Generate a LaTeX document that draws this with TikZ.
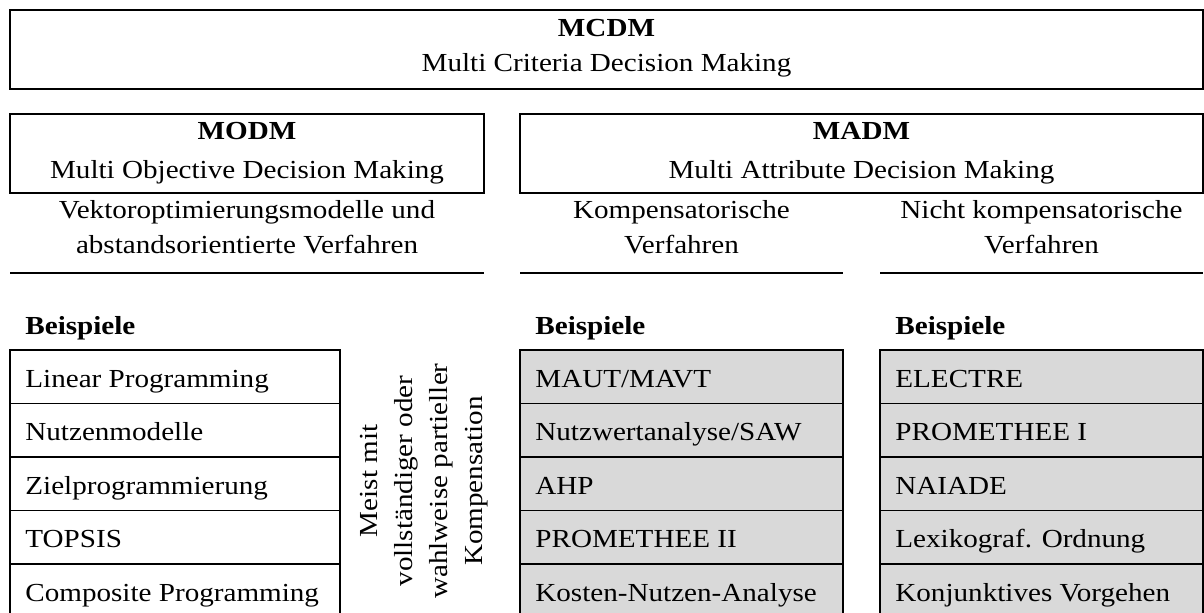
\documentclass[tikz,border=0pt]{standalone}
\usepackage{fontspec}
\setmainfont{Liberation Serif}[FakeStretch=1.12]
\definecolor{boxgrey}{HTML}{D9D9D9}
\begin{document}
\begin{tikzpicture}[x=0.5pt,y=-0.5pt,
  frame/.style={draw=black,line width=0.8pt},
  rule/.style={draw=black,line width=0.8pt},
  txt/.style={inner sep=0pt,anchor=base,font=\fontsize{13}{15}\selectfont},
  btxt/.style={txt,font=\fontsize{13}{15}\selectfont\bfseries},
  ltxt/.style={txt,anchor=base west},
  vtxt/.style={txt,rotate=90}]
\path[use as bounding box,clip] (0,0) rectangle (1204,612);

% top level: MCDM
\draw[frame] (10,10) rectangle (1203,89);
\node[btxt] (mcdm) at (606.5,36) {MCDM};
\node[txt] (mcdmsub) at (606.5,71) {Multi Criteria Decision Making};

% second level: MODM and MADM
\draw[frame] (10,114) rectangle (484,193);
\node[btxt] (modm) at (247,139) {MODM};
\node[txt] (modmsub) at (247,178) {Multi Objective Decision Making};
\draw[frame] (520,114) rectangle (1203,193);
\node[btxt] (madm) at (861.5,139) {MADM};
\node[txt] (madmsub) at (861.5,178) {Multi Attribute Decision Making};

% method families
\node[txt] (vek1) at (247,218) {Vektoroptimierungsmodelle und};
\node[txt] (vek2) at (247,253) {abstandsorientierte Verfahren};
\node[txt] (komp1) at (681.5,218) {Kompensatorische};
\node[txt] (komp2) at (681.5,253) {Verfahren};
\node[txt] (nkomp1) at (1041.5,218) {Nicht kompensatorische};
\node[txt] (nkomp2) at (1041.5,253) {Verfahren};
\draw[rule] (10,273) -- (484,273);
\draw[rule] (520,273) -- (843,273);
\draw[rule] (880,273) -- (1203,273);

% examples
\node[btxt,anchor=base west] (bspa) at (25,334) {Beispiele};
\node[btxt,anchor=base west] (bspb) at (535,334) {Beispiele};
\node[btxt,anchor=base west] (bspc) at (895,334) {Beispiele};

\foreach \t [count=\i] in {Linear Programming,Nutzenmodelle,Zielprogrammierung,TOPSIS,Composite Programming}{
  \pgfmathsetmacro{\top}{350+(\i-1)*53.5}
  \draw[frame] (10,\top) rectangle (340,\top+53.5);
  \node[ltxt] (moda\i) at (25,\top+37) {\t};
}
\foreach \t [count=\i] in {MAUT/MAVT,Nutzwertanalyse/SAW,AHP,PROMETHEE II,Kosten-Nutzen-Analyse}{
  \pgfmathsetmacro{\top}{350+(\i-1)*53.5}
  \draw[frame,fill=boxgrey] (520,\top) rectangle (843,\top+53.5);
  \node[ltxt] (kmp\i) at (535,\top+37) {\t};
}
\foreach \t [count=\i] in {ELECTRE,PROMETHEE I,NAIADE,Lexikograf. Ordnung,Konjunktives Vorgehen}{
  \pgfmathsetmacro{\top}{350+(\i-1)*53.5}
  \draw[frame,fill=boxgrey] (880,\top) rectangle (1203,\top+53.5);
  \node[ltxt] (nkmp\i) at (895,\top+37) {\t};
}

% upright note between the example lists
\node[vtxt] (note1) at (377,481) {Meist mit};
\node[vtxt] (note2) at (412,481) {vollständiger oder};
\node[vtxt] (note3) at (447,481) {wahlweise partieller};
\node[vtxt] (note4) at (482,481) {Kompensation};
\end{tikzpicture}
\end{document}
